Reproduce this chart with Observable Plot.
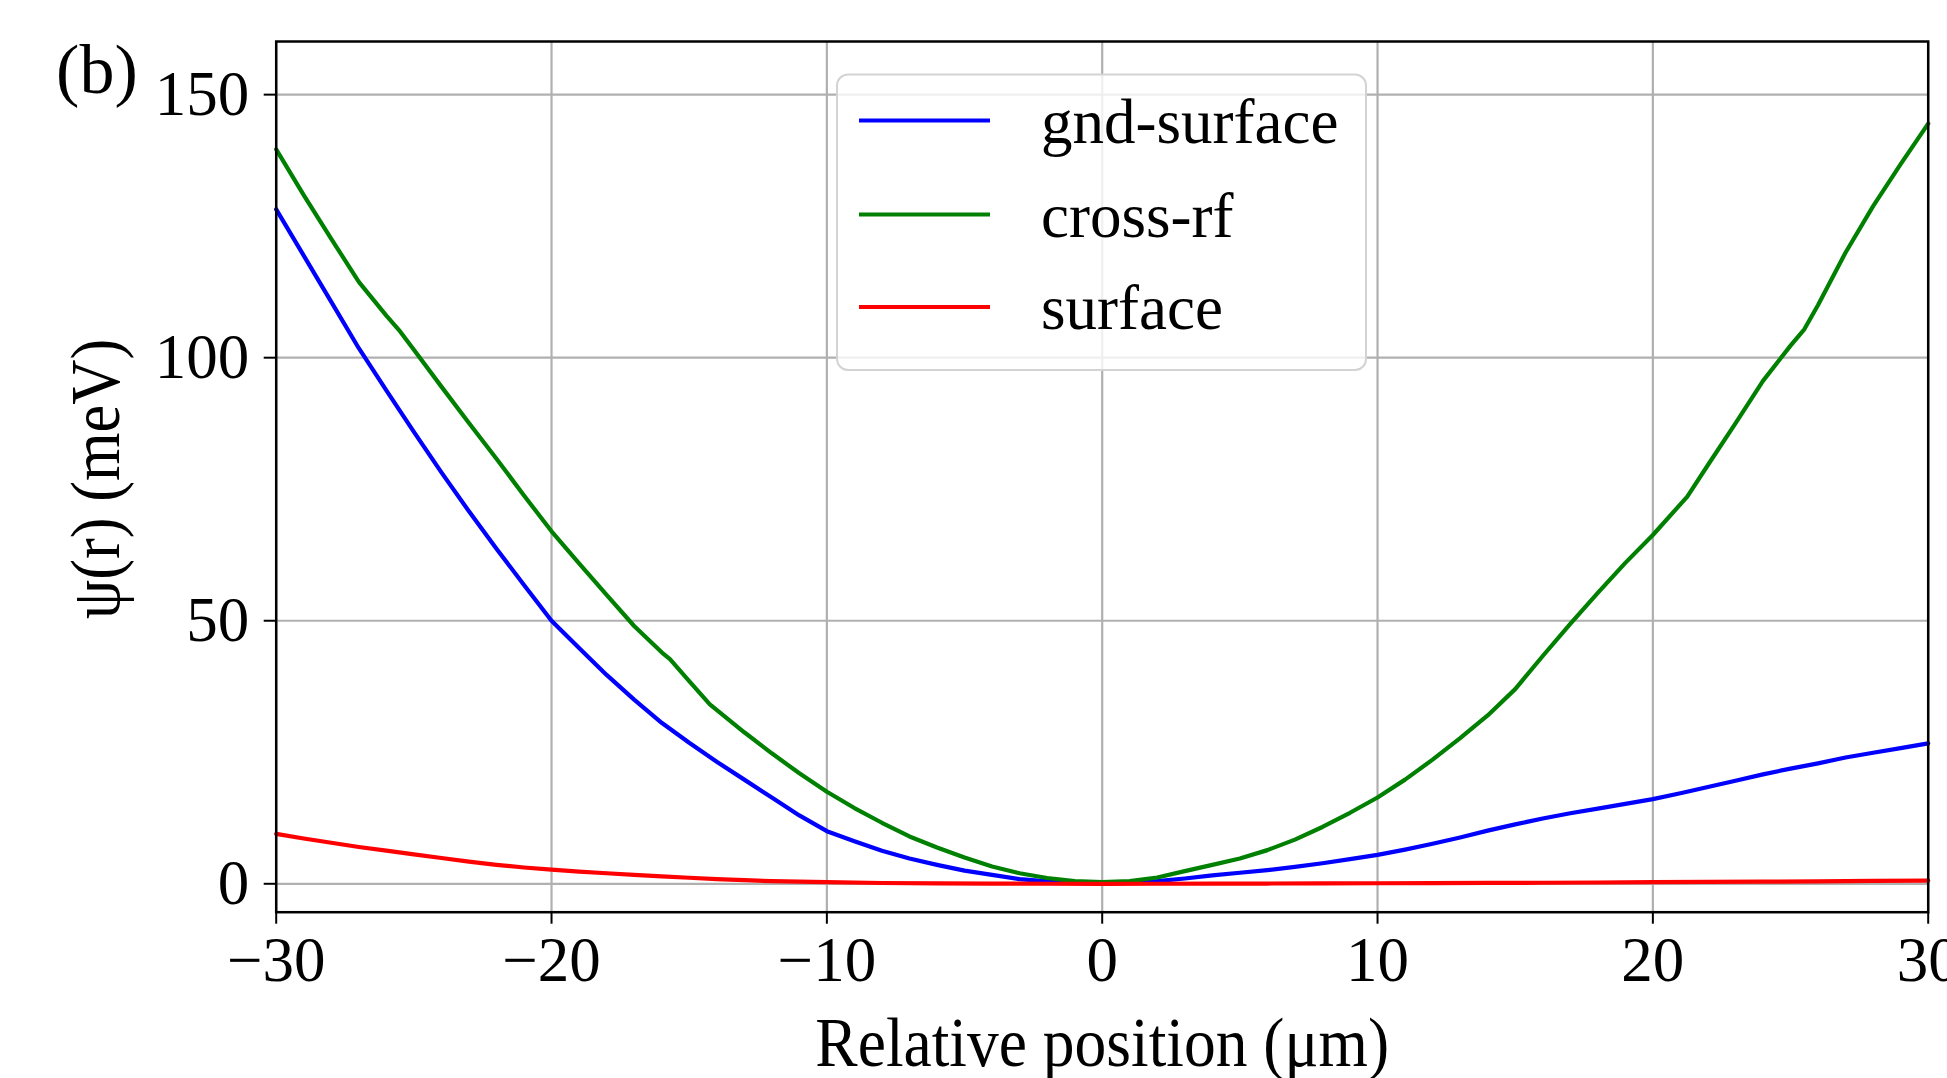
<!DOCTYPE html>
<html>
<head>
<meta charset="utf-8">
<script src="https://cdn.jsdelivr.net/npm/d3@7"></script>
<script src="https://cdn.jsdelivr.net/npm/@observablehq/plot@0.6"></script>
<style>
  html, body { margin: 0; padding: 0; background: #fff; overflow: hidden; }
  #chart { width: 1947px; height: 1078px; }
</style>
</head>
<body>
<div id="chart"></div>
<script>
// Potential profiles along the trap axis
const seriesNames  = ["gnd-surface", "cross-rf", "surface"];
const seriesColors = ["#0000ff", "#008000", "#ff0000"];

const gndX = [-30, -29, -28, -27, -26, -25, -24, -23, -22, -21, -20, -19, -18, -17, -16, -15, -14, -13, -12, -11, -10,
              -9, -8, -7, -6, -5, -4, -3, -2, -1, 0, 1, 2, 3, 4, 5, 6, 7, 8, 9, 10,
              11, 12, 13, 14, 15, 16, 17, 18, 19, 20, 21, 22, 23, 24, 25, 26, 27, 28, 29, 30];
const gndY = [128.2, 119.4, 110.6, 101.8, 93.8, 85.9, 78.2, 70.8, 63.7, 56.8, 50.0, 44.8, 39.7, 35.0, 30.6, 26.8, 23.2, 19.8, 16.4, 13.0, 10.0,
              8.1, 6.3, 4.8, 3.6, 2.5, 1.7, 0.9, 0.45, 0.15, 0.05, 0.15, 0.5, 1.0, 1.6, 2.1, 2.6, 3.2, 3.9, 4.7, 5.5,
              6.5, 7.6, 8.8, 10.1, 11.3, 12.4, 13.4, 14.3, 15.2, 16.1, 17.2, 18.4, 19.6, 20.8, 21.9, 22.9, 24.0, 24.9, 25.8, 26.7];

const crossX = [-30, -29, -28, -27, -26, -25.5, -25, -24, -23, -22, -21, -20, -19, -18, -17, -16, -15.7, -15, -14.25, -13, -12, -11, -10,
                -9, -8, -7, -6, -5, -4, -3, -2, -1, 0, 1, 2, 3, 4, 5, 6, 7, 8, 9, 10,
                11, 12, 13, 14, 15, 16, 17, 18, 19, 20, 21.25, 22, 23, 24, 25, 25.5, 26, 27, 28, 29, 30];
const crossY = [139.6, 130.9, 122.6, 114.4, 108.0, 105.0, 101.5, 94.5, 87.6, 80.8, 73.8, 67.0, 60.9, 54.9, 49.0, 44.0, 42.7, 38.5, 34.1, 28.8, 24.8, 21.0, 17.5,
                14.4, 11.6, 9.0, 6.9, 5.0, 3.3, 2.0, 1.1, 0.5, 0.3, 0.5, 1.2, 2.4, 3.6, 4.8, 6.4, 8.4, 10.8, 13.5, 16.4,
                19.8, 23.6, 27.7, 32.0, 37.0, 43.3, 49.4, 55.3, 61.0, 66.3, 73.6, 79.6, 87.5, 95.6, 102.3, 105.4, 110.0, 120.0, 128.8, 136.8, 144.5];

const surfX = [-30, -29, -28, -27, -26, -25, -24, -23, -22, -21, -20, -19, -18, -17, -16, -15, -14, -13, -12, -11, -10,
               -8, -6, -4, -2, 0, 2, 4, 6, 8, 10, 12, 14, 16, 18, 20, 22, 24, 26, 28, 30];
const surfY = [9.5, 8.6, 7.8, 7.0, 6.3, 5.6, 4.9, 4.2, 3.6, 3.1, 2.7, 2.3, 2.0, 1.7, 1.4, 1.15, 0.9, 0.7, 0.5, 0.4, 0.3,
               0.15, 0.08, 0.03, 0.01, 0.0, 0.01, 0.03, 0.05, 0.08, 0.1, 0.13, 0.16, 0.2, 0.25, 0.3, 0.35, 0.4, 0.47, 0.55, 0.6];

const xTicks = [-30, -20, -10, 0, 10, 20, 30];
const yTicks = [0, 50, 100, 150];
const xLabel = "Relative position (μm)";
const yLabel = "ψ(r) (meV)";
const panelTag = "(b)";

// long-format table for the line mark
const rows = [];
[[gndX, gndY], [crossX, crossY], [surfX, surfY]].forEach(([xs, ys], k) => {
  xs.forEach((x, i) => rows.push({series: seriesNames[k], x, y: ys[i]}));
});

const serif = "'Liberation Serif', 'Times New Roman', Times, serif";
const tickFont = 63;
const lineWidth = 4.2;

const chart = Plot.plot({
  width: 1947,
  height: 1078,
  marginLeft: 275.7,
  marginRight: 19.3,
  marginTop: 41,
  marginBottom: 166.3,
  style: {fontFamily: serif, fontSize: tickFont + "px", color: "#000", background: "#fff"},
  x: {domain: [-30, 30]},
  y: {domain: [-5.4, 160.1]},
  color: {domain: seriesNames, range: seriesColors},
  marks: [
    Plot.gridX({ticks: xTicks, stroke: "#b0b0b0", strokeOpacity: 1, strokeWidth: 2.2}),
    Plot.gridY({ticks: yTicks, stroke: "#b0b0b0", strokeOpacity: 1, strokeWidth: 2.2}),
    Plot.line(rows, {x: "x", y: "y", z: "series", stroke: "series", strokeWidth: lineWidth, strokeLinejoin: "round"}),
    Plot.frame({stroke: "#000", strokeWidth: 2.5}),
    Plot.axisX({ticks: xTicks, tickSize: 12, tickPadding: 12, strokeWidth: 2, fontSize: tickFont, label: null}),
    Plot.axisY({ticks: yTicks, tickSize: 12, tickPadding: 15, strokeWidth: 2, fontSize: tickFont, label: null}),
    Plot.text([xLabel], {frameAnchor: "bottom", text: d => d, textAnchor: "middle", lineAnchor: "bottom", dy: 153.3, fontSize: 63.5, className: "axis-title"}),
    Plot.text([yLabel], {frameAnchor: "left", text: d => d, textAnchor: "middle", rotate: -90, lineAnchor: "bottom", dx: -157.5, dy: 2, fontSize: 62.5, className: "axis-title"}),
    Plot.text([panelTag], {frameAnchor: "top-left", text: d => d, textAnchor: "end", lineAnchor: "bottom", dx: -138.5, dy: 51, fontSize: 70})
  ]
});

// axis titles are set in a slightly tall serif face
d3.select(chart).selectAll(".axis-title text").each(function () {
  const t = this.getAttribute("transform") || "";
  this.setAttribute("transform", t + " scale(1,1.1)");
});

// legend box in the upper middle of the panel
const svg = d3.select(chart);
const legend = svg.append("g")
  .attr("font-family", serif).attr("font-size", 63).attr("text-anchor", "start");
legend.append("rect")
  .attr("x", 837).attr("y", 74.5).attr("width", 529).attr("height", 295.5)
  .attr("rx", 11).attr("ry", 11)
  .attr("fill", "#fff").attr("fill-opacity", 0.8)
  .attr("stroke", "#d3d3d3").attr("stroke-width", 2);
const rowLine = [120.5, 214.5, 307];
const rowBase = [143, 236.5, 328.5];
seriesNames.forEach((name, i) => {
  legend.append("line")
    .attr("x1", 859).attr("x2", 990).attr("y1", rowLine[i]).attr("y2", rowLine[i])
    .attr("stroke", seriesColors[i]).attr("stroke-width", lineWidth);
  legend.append("text")
    .attr("x", 1041).attr("y", rowBase[i]).attr("fill", "#000")
    .attr("text-anchor", "start")
    .text(name);
});

document.getElementById("chart").appendChild(chart);
</script>
</body>
</html>
